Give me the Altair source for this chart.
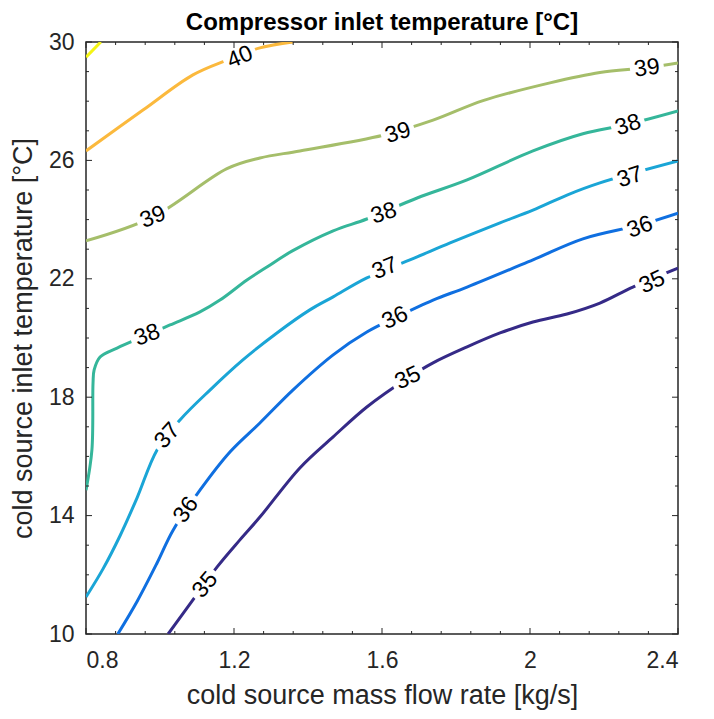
import altair as alt
import pandas as pd

# ---- contour lines (x: mass flow rate kg/s, y: inlet temperature °C) ----
lev41_x = [0.80, 0.84]
lev41_y = [29.49, 30.0]

lev40_x = [0.80, 0.954, 1.089, 1.181, 1.270, 1.359]
lev40_y = [26.32, 27.70, 28.89, 29.39, 29.80, 30.0]

lev39_x = [0.80, 0.981, 1.181, 1.270, 1.378, 1.603, 1.738, 1.873, 2.054, 2.189, 2.316, 2.40]
lev39_y = [23.28, 24.09, 25.72, 26.08, 26.32, 26.85, 27.36, 28.02, 28.62, 28.97, 29.13, 29.29]

lev38_x = [0.80, 0.816, 0.819, 0.822, 0.838, 0.884, 0.965, 1.027, 1.108, 1.162, 1.235, 1.289,
           1.359, 1.468, 1.559, 1.695, 1.830, 2.008, 2.143, 2.265, 2.40]
lev38_y = [14.86, 16.22, 18.48, 18.92, 19.36, 19.66, 20.10, 20.44, 20.88, 21.28, 21.96, 22.40,
           22.95, 23.62, 24.02, 24.73, 25.34, 26.32, 26.90, 27.22, 27.67]

lev37_x = [0.80, 0.846, 0.892, 0.938, 0.992, 1.054, 1.135, 1.224, 1.316, 1.405, 1.468, 1.559,
           1.695, 1.784, 1.919, 2.008, 2.100, 2.189, 2.40]
lev37_y = [11.25, 12.20, 13.32, 14.60, 16.22, 17.23, 18.24, 19.26, 20.17, 20.95, 21.39, 22.03,
           22.74, 23.21, 23.89, 24.32, 24.83, 25.24, 25.98]

lev36_x = [0.886, 0.938, 0.992, 1.035, 1.108, 1.189, 1.270, 1.359, 1.468, 1.559, 1.635, 1.738,
           1.830, 2.008, 2.143, 2.297, 2.40]
lev36_y = [10.0, 11.10, 12.40, 13.50, 14.86, 16.15, 17.13, 18.24, 19.43, 20.20, 20.68, 21.28,
           21.72, 22.64, 23.35, 23.82, 24.22]

lev35_x = [1.022, 1.089, 1.154, 1.216, 1.270, 1.378, 1.468, 1.559, 1.670, 1.738, 1.830, 1.919,
           2.008, 2.100, 2.189, 2.278, 2.40]
lev35_y = [10.0, 11.15, 12.26, 13.18, 13.95, 15.61, 16.66, 17.67, 18.65, 19.16, 19.70, 20.17,
           20.54, 20.81, 21.18, 21.72, 22.36]

levels = [35, 36, 37, 38, 39, 40, 41]
level_colors = ["#352a87", "#0f6fe0", "#1aa5d6", "#35b69a", "#a5be6a", "#fbb93d", "#f4f414"]

# ---- in-line labels ----
lab_text = ["40", "39", "39", "39", "38", "38", "38", "37", "37", "37",
            "36", "36", "36", "35", "35", "35"]
lab_x = [1.216, 0.981, 1.643, 2.316, 0.965, 1.605, 2.265, 1.020, 1.608, 2.270,
         1.070, 1.635, 2.297, 1.122, 1.670, 2.330]
lab_y = [29.49, 24.09, 26.93, 29.12, 20.10, 24.22, 27.20, 16.70, 22.36, 25.44,
         14.20, 20.68, 23.75, 11.66, 18.65, 21.89]
lab_angle = [338, 338, 343, 352, 340, 342, 342, 312, 338, 342,
             305, 335, 340, 310, 335, 335]

title_text = ["Compressor inlet temperature [°C]"]

# ---- ticks ----
x_major = [0.8, 1.2, 1.6, 2.0, 2.4]
x_minor = [0.88, 0.96, 1.04, 1.12, 1.28, 1.36, 1.44, 1.52, 1.68, 1.76, 1.84, 1.92,
           2.08, 2.16, 2.24, 2.32]
y_major = [10, 14, 18, 22, 26, 30]
y_minor = [11, 12, 13, 15, 16, 17, 19, 20, 21, 23, 24, 25, 27, 28, 29]

W, H = 592, 592
AX = "#262626"
FONT = "Liberation Sans"

rows = []
for lev, xs, ys in [(35, lev35_x, lev35_y), (36, lev36_x, lev36_y), (37, lev37_x, lev37_y),
                    (38, lev38_x, lev38_y), (39, lev39_x, lev39_y), (40, lev40_x, lev40_y),
                    (41, lev41_x, lev41_y)]:
    for i, (a, b) in enumerate(zip(xs, ys)):
        rows.append({"level": lev, "i": i, "x": a, "y": b})
lines_df = pd.DataFrame(rows)
labels_df = pd.DataFrame({"t": lab_text, "x": lab_x, "y": lab_y, "a": lab_angle})

xscale = alt.Scale(domain=[0.8, 2.4], nice=False, zero=False)
yscale = alt.Scale(domain=[10, 30], nice=False, zero=False)
cscale = alt.Scale(domain=levels, range=level_colors)

lines = alt.Chart(lines_df).mark_line(strokeWidth=3, clip=True, interpolate="catmull-rom").encode(
    x=alt.X("x:Q", scale=xscale,
            axis=alt.Axis(values=x_major, format="~g", title="cold source mass flow rate [kg/s]",
                          domain=False, ticks=False, grid=False, labelPadding=15,
                          titlePadding=10)),
    y=alt.Y("y:Q", scale=yscale,
            axis=alt.Axis(values=y_major, title="cold source inlet temperature [°C]",
                          domain=False, ticks=False, grid=False, labelPadding=12,
                          titlePadding=11)),
    color=alt.Color("level:O", scale=cscale, legend=None),
    detail="level:N",
    order="i:Q",
)

gaps = alt.Chart(labels_df).mark_point(
    shape="M-1,-0.42L1,-0.42L1,0.42L-1,0.42Z", filled=True, color="white", opacity=1,
    size=1150, strokeWidth=0).encode(
    x=alt.X("x:Q", scale=xscale), y=alt.Y("y:Q", scale=yscale), angle=alt.Angle("a:Q", scale=None))

texts = alt.Chart(labels_df).mark_text(font=FONT, fontSize=23, color="black").encode(
    x=alt.X("x:Q", scale=xscale), y=alt.Y("y:Q", scale=yscale), text="t:N",
    angle=alt.Angle("a:Q", scale=None))

title = alt.Chart(pd.DataFrame({"t": title_text})).mark_text(
    font=FONT, fontSize=24, fontWeight="bold", color="black", baseline="middle",
    align="center").encode(text="t:N", x=alt.value(W / 2), y=alt.value(-19))


def xticks(vals, ln):
    d = pd.DataFrame({"v": vals})
    b = alt.Chart(d).mark_rule(color=AX, strokeWidth=1).encode(
        x=alt.X("v:Q", scale=xscale), y=alt.value(H), y2=alt.value(H - ln))
    t = alt.Chart(d).mark_rule(color=AX, strokeWidth=1).encode(
        x=alt.X("v:Q", scale=xscale), y=alt.value(0), y2=alt.value(ln))
    return [b, t]


def yticks(vals, ln):
    d = pd.DataFrame({"v": vals})
    l = alt.Chart(d).mark_rule(color=AX, strokeWidth=1).encode(
        y=alt.Y("v:Q", scale=yscale), x=alt.value(0), x2=alt.value(ln))
    r = alt.Chart(d).mark_rule(color=AX, strokeWidth=1).encode(
        y=alt.Y("v:Q", scale=yscale), x=alt.value(W), x2=alt.value(W - ln))
    return [l, r]


layers = [lines, gaps, texts, title] + xticks(x_major, 6) + xticks(x_minor, 3) + \
    yticks(y_major, 6) + yticks(y_minor, 3)

chart = alt.layer(*layers).properties(
    width=W, height=H,
    autosize=alt.AutoSizeParams(type="none"),
    padding={"left": 78, "top": 34, "right": 26, "bottom": 76},
).configure_view(stroke=AX, strokeWidth=1.5).configure_axis(
    labelFont=FONT, labelFontSize=23, labelColor=AX,
    titleFont=FONT, titleFontSize=27, titleColor=AX, titleFontWeight="normal",
)

chart.save("out.html", embed_options={"renderer": "svg", "actions": False})
